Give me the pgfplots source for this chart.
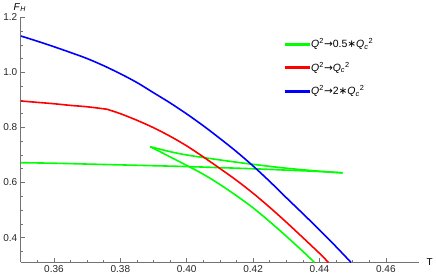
\documentclass[border=0pt]{standalone}
\usepackage{fontspec}
\setmainfont{Liberation Sans}
\newfontfamily\sym{DejaVu Sans}
\usepackage{pgfplots}
\pgfplotsset{compat=1.18}
\newcommand{\arr}{{\sym\char"2192}}
\newcommand{\st}{{\sym\char"2217}}
\definecolor{mgreen}{rgb}{0,1,0}
\definecolor{mred}{rgb}{1,0,0}
\definecolor{mblue}{rgb}{0,0,1}
\begin{document}
\begin{tikzpicture}
\begin{axis}[
  scale only axis, width=398pt, height=245pt,
  xmin=0.35, xmax=0.47, ymin=0.31, ymax=1.2,
  axis lines*=left,
  axis line style={black!55, line width=0.6pt},
  tick align=inside,
  tick style={black!55, line width=0.5pt},
  major tick length=4pt, minor tick length=2.5pt,
  xtick={0.36,0.38,0.40,0.42,0.44,0.46},
  ytick={0.4,0.6,0.8,1.0,1.2},
  minor x tick num=3, minor y tick num=3,
  extra x ticks={0.355}, extra x tick style={major tick length=2.5pt, xticklabels={}},
  extra y ticks={0.35}, extra y tick style={major tick length=2.5pt, yticklabels={}},
  /pgf/number format/assume math mode=true,
  xticklabel style={/pgf/number format/.cd, fixed, fixed zerofill, precision=2},
  yticklabel style={/pgf/number format/.cd, fixed, fixed zerofill, precision=1},
  tick label style={font=\fontsize{10}{11}\selectfont, text=black!85},
  xlabel={T}, ylabel={\textit{F}\textsubscript{\textit{H}}},
  xlabel style={at={(axis description cs:1,0)}, anchor=west, xshift=4pt, font=\fontsize{10}{11}\selectfont},
  ylabel style={rotate=-90, at={(axis description cs:0,1)}, anchor=south, xshift=-1pt, yshift=2pt, font=\fontsize{10}{11}\selectfont},
  legend style={draw=none, fill=none, at={(axis description cs:0.655,0.93)}, anchor=north west, row sep=9pt, font=\fontsize{10.5}{11.5}\selectfont},
  legend cell align=left,
  legend image code/.code={\fill[#1] (0pt,-0.85pt) rectangle (24pt,0.85pt);},
  clip=true,
]
\addlegendimage{mgreen}
\addlegendentry{\textit{Q}\textsuperscript{2}\arr0.5\st\textit{Q}\textsubscript{\textit{c}}\textsuperscript{2}}
\addlegendimage{mred}
\addlegendentry{\textit{Q}\textsuperscript{2}\arr\textit{Q}\textsubscript{\textit{c}}\textsuperscript{2}}
\addlegendimage{mblue}
\addlegendentry{\textit{Q}\textsuperscript{2}\arr2\st\textit{Q}\textsubscript{\textit{c}}\textsuperscript{2}}
% green: lower branch
\addplot[mgreen, line width=1.6pt, smooth, forget plot] coordinates {(0.35,0.672) (0.36,0.670) (0.37,0.667) (0.38,0.664) (0.39,0.661) (0.40,0.658) (0.41,0.654) (0.42,0.650) (0.43,0.645) (0.44,0.640) (0.447,0.635)};
% green upper middle branch
\addplot[mgreen, line width=1.6pt, smooth, forget plot] coordinates {(0.447,0.635) (0.44,0.641) (0.43,0.652) (0.42,0.666) (0.41,0.682) (0.40,0.700) (0.395,0.712) (0.389,0.730)};
% green third branch
\addplot[mgreen, line width=1.6pt, smooth, forget plot] coordinates {(0.389,0.730) (0.395,0.693) (0.40,0.662) (0.405,0.630) (0.41,0.593) (0.415,0.552) (0.42,0.508) (0.425,0.458) (0.43,0.405) (0.435,0.350) (0.4385,0.31)};
% red
\addplot[mred, line width=1.6pt, smooth, forget plot] coordinates {(0.35,0.896) (0.355,0.891) (0.36,0.886) (0.365,0.880) (0.37,0.875) (0.376,0.866)};
\addplot[mred, line width=1.6pt, smooth, forget plot] coordinates {(0.376,0.866) (0.38,0.850) (0.385,0.826) (0.39,0.799) (0.395,0.768) (0.40,0.733) (0.405,0.693) (0.41,0.651) (0.415,0.608) (0.42,0.561) (0.425,0.510) (0.43,0.456) (0.435,0.400) (0.44,0.343) (0.4427,0.31)};
% blue
\addplot[mblue, line width=1.6pt, smooth, forget plot] coordinates {(0.35,1.132) (0.355,1.113) (0.36,1.093) (0.365,1.072) (0.37,1.050) (0.375,1.024) (0.38,0.995) (0.385,0.963) (0.39,0.926) (0.395,0.889) (0.40,0.849) (0.405,0.806) (0.41,0.760) (0.415,0.712) (0.42,0.660) (0.425,0.604) (0.43,0.545) (0.435,0.487) (0.44,0.428) (0.445,0.367) (0.4495,0.31)};
\end{axis}
\end{tikzpicture}
\end{document}
